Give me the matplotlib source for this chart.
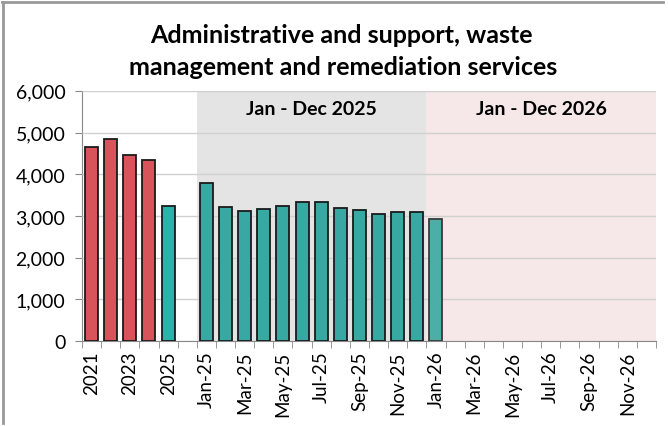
import matplotlib
matplotlib.use("Agg")
import matplotlib.pyplot as plt
from matplotlib.lines import Line2D
from matplotlib.ticker import FuncFormatter, FixedLocator

matplotlib.rcParams.update({'font.family': ['Lato', 'DejaVu Sans']})

# annual values
years = ["2021", "2022", "2023", "2024", "2025"]
annual_values = [4650, 4850, 4450, 4340, 3240]

# monthly values (Jan-25 .. Dec-26), only Jan-25 to Jan-26 available
months = ["Jan", "Feb", "Mar", "Apr", "May", "Jun", "Jul", "Aug", "Sep", "Oct", "Nov", "Dec"]
month_labels = [f"{m}-25" for m in months] + [f"{m}-26" for m in months]
monthly_values = [3780, 3225, 3120, 3170, 3235, 3330, 3330, 3200, 3135, 3055, 3105, 3090, 2930]

band_labels = ["Jan - Dec 2025", "Jan - Dec 2026"]

RED = "#D9535A"
TEAL_YEAR = "#28B3AB"
TEAL_MONTH = "#38A8A2"
TEAL_LAST = "#4BAEA7"


def main():
    fig = plt.figure(figsize=(6.68, 4.27), dpi=100)
    ax = fig.add_axes([0.1228, 0.199, 0.8592, 0.586])

    n_annual = len(years)
    first_month = n_annual + 1  # one empty slot between annual and monthly bars
    n_slots = first_month + len(month_labels)

    # shaded bands for 2025 and 2026
    ax.axvspan(first_month - 0.5, first_month + 11.5, color="#E4E4E4", zorder=0, lw=0)
    ax.axvspan(first_month + 11.5, n_slots - 0.5, color="#F6E8E8", zorder=0, lw=0)
    ax.text(first_month + 5.5, 5570, band_labels[0], ha="center", va="center",
            fontsize=14, fontweight="bold")
    ax.text(first_month + 17.5, 5570, band_labels[1], ha="center", va="center",
            fontsize=14, fontweight="bold")

    width = 0.68
    annual_colors = [RED] * 4 + [TEAL_YEAR]
    ax.bar(range(n_annual), annual_values, width=width, color=annual_colors,
           edgecolor="#1a1a1a", linewidth=1.3, zorder=3)

    month_x = [first_month + i for i in range(len(monthly_values))]
    month_colors = [TEAL_MONTH] * (len(monthly_values) - 1) + [TEAL_LAST]
    month_edges = ["#1a1a1a"] * (len(monthly_values) - 1) + ["#3a3a3a"]
    ax.bar(month_x, monthly_values, width=width, color=month_colors,
           edgecolor=month_edges, linewidth=1.3, zorder=3)

    ax.set_xlim(-0.5, n_slots - 0.5)
    ax.set_ylim(0, 6000)
    ax.set_yticks(range(0, 6001, 1000))
    ax.yaxis.set_major_formatter(FuncFormatter(lambda v, p: f"{int(v):,}"))
    ax.grid(axis="y", color="#D0D0D0", linewidth=1, zorder=1)
    ax.set_axisbelow(False)

    # labels on every other category
    label_pos = []
    label_txt = []
    for i in range(0, n_annual, 2):
        label_pos.append(i)
        label_txt.append(years[i])
    for i in range(0, len(month_labels), 2):
        label_pos.append(first_month + i)
        label_txt.append(month_labels[i])
    ax.set_xticks(label_pos)
    ax.set_xticklabels(label_txt, rotation=90, fontsize=13.5)
    ax.tick_params(axis="x", length=0, pad=7)
    ax.xaxis.set_minor_locator(FixedLocator([i - 0.5 for i in range(n_slots + 1)]))
    ax.tick_params(axis="x", which="minor", length=5, color="#888888", direction="out")
    ax.tick_params(axis="y", labelsize=14, length=5, color="#888888", pad=7)

    for side in ["top", "right"]:
        ax.spines[side].set_visible(False)
    ax.spines["left"].set_color("#888888")
    ax.spines["bottom"].set_color("#888888")

    fig.text(0.511, 0.916, "Administrative and support, waste", ha="center", va="center",
             fontsize=18, fontweight="bold")
    fig.text(0.513, 0.841, "management and remediation services", ha="center", va="center",
             fontsize=18, fontweight="bold")

    # chart area border (left and top visible)
    fig.add_artist(Line2D([0.003, 0.993], [0.994, 0.994], color="#999999", lw=2,
                          transform=fig.transFigure))
    fig.add_artist(Line2D([0.004, 0.004], [0.008, 0.994], color="#999999", lw=2,
                          transform=fig.transFigure))

    plt.savefig("out.png", dpi=100)


if __name__ == "__main__":
    main()
